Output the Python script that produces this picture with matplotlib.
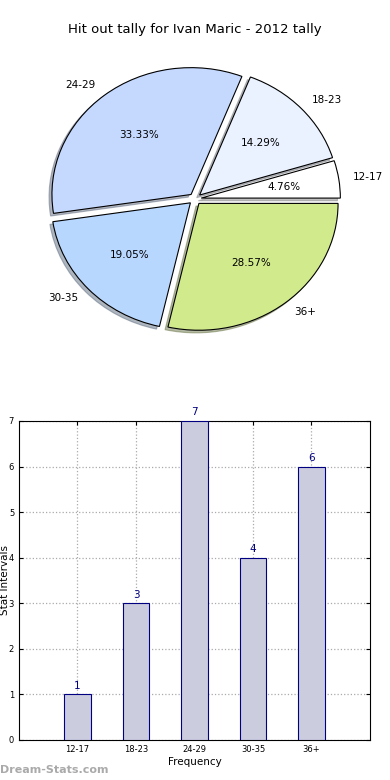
import matplotlib
matplotlib.use('Agg')
import matplotlib.pyplot as plt

# data
categories = ['12-17', '18-23', '24-29', '30-35', '36+']
counts = [1, 3, 7, 4, 6]
pie_colors = ['#ffffff', '#eaf1ff', '#c5d9ff', '#b8d7ff', '#d1ea8c']
explode = [0.045, 0.045, 0.045, 0.045, 0.045]
title = 'Hit out tally for Ivan Maric - 2012 tally'

fig = plt.figure(figsize=(3.9, 7.8), dpi=100)

# pie chart
ax1 = fig.add_axes([0.054, 0.5417, 0.892, 0.4065])
ax1.pie(counts, labels=categories, colors=pie_colors, explode=explode,
        autopct='%1.2f%%', shadow={'ox': -0.015, 'oy': -0.015, 'shade': 0.5},
        startangle=0,
        wedgeprops={'edgecolor': 'black', 'linewidth': 0.8},
        textprops={'fontsize': 7.5})
ax1.set_xlim(-1.25, 1.25)
ax1.set_ylim(-1.25, 1.25)
ax1.set_aspect('auto')
fig.text(0.5, 1 - 30 / 780, title, ha='center', va='center', fontsize=9.5)

# bar chart
ax2 = fig.add_axes([0.0487, 0.0513, 0.9, 0.409])
x = list(range(len(categories)))
bars = ax2.bar(x, counts, width=0.45, color='#ccccdf', edgecolor='navy', linewidth=0.8, zorder=3)
for xi, c in zip(x, counts):
    ax2.text(xi, c + 0.08, str(c), ha='center', va='bottom', color='navy', fontsize=7.5)
ax2.set_xlim(-1, 5)
ax2.set_ylim(0, 7)
ax2.set_xticks(x)
ax2.set_xticklabels(categories)
ax2.set_yticks(range(8))
ax2.tick_params(labelsize=6, direction='in', top=True, right=True, length=3)
ax2.grid(True, linestyle=':', color='#aaaaaa', linewidth=0.9, zorder=0)
ax2.set_xlabel('Frequency', fontsize=7.5, labelpad=2)
ax2.set_ylabel('Stat Intervals', fontsize=7.5)
ax2.yaxis.set_label_coords(-0.027, 0.5)

fig.text(0.0, 1 - 770 / 780, 'Dream-Stats.com', ha='left', va='center',
         fontsize=8, color='#aaaaaa', fontweight='bold')

fig.savefig('out.png', dpi=100)
